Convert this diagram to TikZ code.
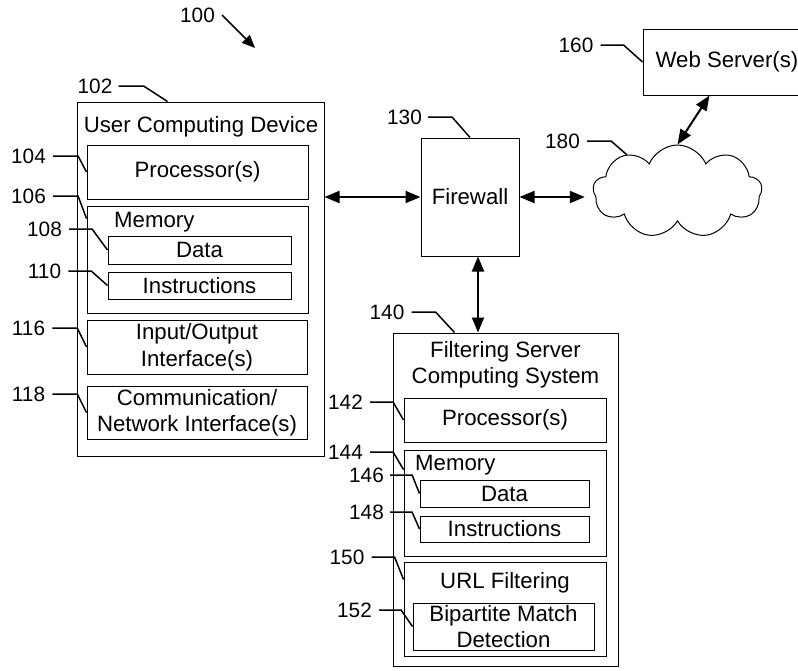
\documentclass[tikz,border=0pt]{standalone}
\usepackage{fontspec}
\setmainfont{Liberation Sans}
\usetikzlibrary{arrows.meta,calc,shapes.symbols}

\begin{document}
\begin{tikzpicture}[x=1pt,y=-1pt,
  every node/.style={font=\fontsize{22.2}{26.5}\selectfont},
  box/.style={draw,line width=1pt,inner sep=0pt,align=center},
  refnum/.style={font=\fontsize{20.8}{24}\selectfont,inner sep=0pt},
  lead/.style={line width=1.5pt},
  link/.style={line width=2pt,{Triangle[length=15pt,width=12pt]}-{Triangle[length=15pt,width=12pt]}}]
\useasboundingbox (0,0) rectangle (798,670);
% system reference and its pointer
\node[refnum] (l100) at (197.5,15) {100};
\coordinate (sys) at (255,48);
\draw[line width=1.5pt,-{Triangle[length=13pt,width=11pt]}] ([xshift=7pt]l100.east) -- (sys);
% user computing device
\node[box,minimum width=247,minimum height=354] (ucd) at (200.5,279) {};
\node (ucdtitle) at (201,127) {User Computing Device};
\node[box,minimum width=221,minimum height=54] (proc) at (197.5,172) {Processor(s)};
\node[box,minimum width=221,minimum height=107] (mem) at (197.5,259.5) {};
\node[anchor=west,inner sep=0pt] (memtitle) at (114,222) {Memory};
\node[box,minimum width=183,minimum height=28] (data) at (199.5,250) {Data};
\node[box,minimum width=183,minimum height=27] (instr) at (199.5,285.5) {Instructions};
\node[box,minimum width=220,minimum height=54] (io) at (197,347) {Input/Output\\Interface(s)};
\node[box,minimum width=220,minimum height=53] (comm) at (197,412.5) {Communication/\\Network Interface(s)};
% firewall, web server and network
\node[box,minimum width=98,minimum height=118] (fw) at (470,197) {Firewall};
\node[box,minimum width=168,minimum height=66] (web) at (727,62) {Web Server(s)};
\node[cloud,draw,line width=1pt,cloud puffs=9,cloud puff arc=135,aspect=1.8,
  minimum width=169,minimum height=93,inner sep=0pt] (net) at (677.5,191.5) {};
% filtering server computing system
\node[box,minimum width=225,minimum height=333] (fsys) at (505.5,499.5) {};
\node[align=center] (fsystitle) at (505.5,365) {Filtering Server\\Computing System};
\node[box,minimum width=202,minimum height=44] (fproc) at (505,420) {Processor(s)};
\node[box,minimum width=202,minimum height=106] (fmem) at (505,503) {};
\node[anchor=west,inner sep=0pt] (fmemtitle) at (415,465) {Memory};
\node[box,minimum width=169,minimum height=27] (fdata) at (504.5,493.5) {Data};
\node[box,minimum width=169,minimum height=26] (finstr) at (504.5,529) {Instructions};
\node[box,minimum width=202,minimum height=94] (url) at (505,609) {};
\node (urltitle) at (505,583) {URL Filtering};
\node[box,minimum width=181,minimum height=47] (bip) at (503.5,626.5) {Bipartite Match\\Detection};
% connections
\draw[link] (fw.west -| ucd.east) -- (fw.west);
\draw[link] (fw.east) -- ([xshift=-8pt]fw.east -| net.west);
\draw[link] ([xshift=8pt]fw.south) -- ([xshift=8pt]fw.south |- fsys.north);
\draw[link] ($(web.south west)+(67,0)$) -- (net.north);
% reference numerals with lead lines
\node[refnum] (l102) at (95,86) {102};
\draw[lead] ([xshift=6pt]l102.east) -- ++(25,0) -- ($(ucd.north west)+(91,0)$);
\node[refnum] (l104) at (28.5,156) {104};
\draw[lead] ([xshift=7pt]l104.east) -- ++(25,0) -- (proc.west);
\node[refnum] (l106) at (28.5,196) {106};
\draw[lead] ([xshift=7pt]l106.east) -- ++(25,0) -- ($(mem.north west)+(0,13)$);
\node[refnum] (l108) at (44.5,229) {108};
\draw[lead] ([xshift=7pt]l108.east) -- ++(23,0) -- (data.west);
\node[refnum] (l110) at (44.5,271) {110};
\draw[lead] ([xshift=7pt]l110.east) -- ++(23,0) -- (instr.west);
\node[refnum] (l116) at (28.5,328) {116};
\draw[lead] ([xshift=7pt]l116.east) -- ++(25,0) -- (io.west);
\node[refnum] (l118) at (28.5,394) {118};
\draw[lead] ([xshift=7pt]l118.east) -- ++(25,0) -- (comm.west);
\node[refnum] (l130) at (404.5,117) {130};
\draw[lead] ([xshift=6pt]l130.east) -- ++(24,0) -- (fw.north);
\node[refnum] (l140) at (387,312) {140};
\draw[lead] ([xshift=7pt]l140.east) -- ++(24,0) -- ($(fsys.north west)+(62,0)$);
\node[refnum] (l142) at (345.5,402) {142};
\draw[lead] ([xshift=7pt]l142.east) -- ++(23,0) -- (fproc.west);
\node[refnum] (l144) at (345.5,452) {144};
\draw[lead] ([xshift=7pt]l144.east) -- ++(23,0) -- ($(fmem.north west)+(0,20)$);
\node[refnum] (l146) at (366.5,475) {146};
\draw[lead] ([xshift=6pt]l146.east) -- ++(22,0) -- (fdata.west);
\node[refnum] (l148) at (366.5,512) {148};
\draw[lead] ([xshift=6pt]l148.east) -- ++(22,0) -- (finstr.west);
\node[refnum] (l150) at (347,557) {150};
\draw[lead] ([xshift=7pt]l150.east) -- ++(23,0) -- ($(url.north west)+(0,18)$);
\node[refnum] (l152) at (354.5,610) {152};
\draw[lead] ([xshift=7pt]l152.east) -- ++(22,0) -- (bip.west);
\node[refnum] (l160) at (576,45) {160};
\draw[lead] ([xshift=7pt]l160.east) -- ++(23,0) -- (web.west);
\node[refnum] (l180) at (562.5,141) {180};
\draw[lead] ([xshift=7pt]l180.east) -- ++(24,0) -- (net.144);
\end{tikzpicture}
\end{document}
